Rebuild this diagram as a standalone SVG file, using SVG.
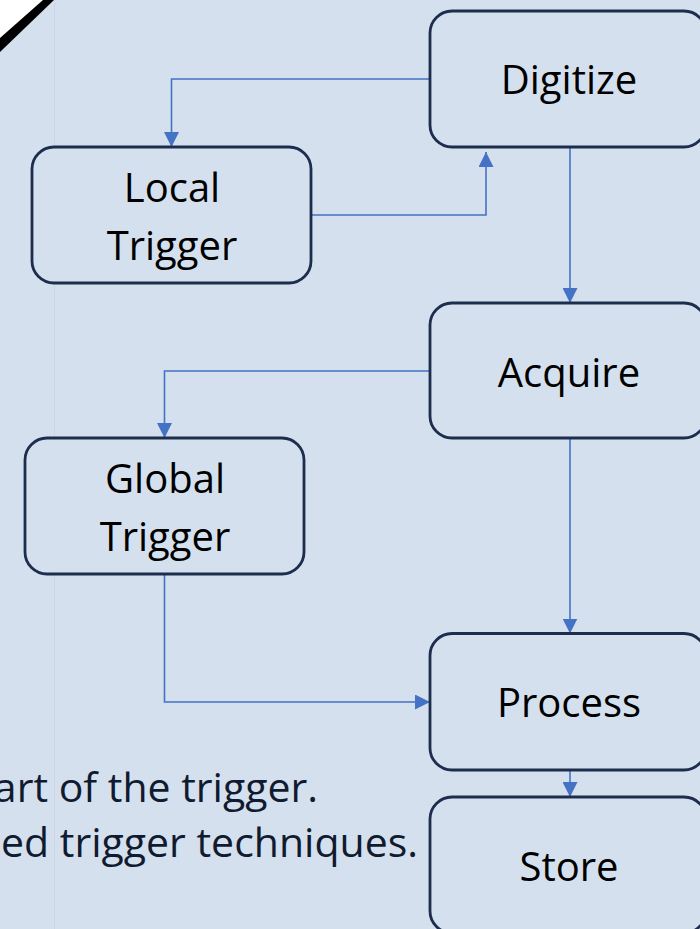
<svg xmlns="http://www.w3.org/2000/svg" width="700" height="929" viewBox="0 0 700 929">
  <style>
    .box { fill: #d5e0ee; stroke: #1c2d4e; stroke-width: 2.8; }
    .label { font-family: "Open Sans", "Noto Sans", sans-serif; font-size: 40px; fill: #000; text-anchor: middle; }
    .note { font-family: "Open Sans", "Noto Sans", sans-serif; font-size: 41px; fill: #101b30; text-anchor: end; }
    .wire { fill: none; stroke: #4472c4; stroke-width: 1.6; marker-end: url(#arrow); }
  </style>
  <defs>
    <marker id="arrow" markerUnits="userSpaceOnUse" markerWidth="15" markerHeight="15" refX="15" refY="7.5" orient="auto">
      <path d="M0,0 L15,7.5 L0,15 Z" fill="#4472c4"/>
    </marker>
  </defs>

  <!-- slide background -->
  <rect x="0" y="0" width="700" height="929" fill="#d5e0ee"/>
  <line x1="54.5" y1="0" x2="54.5" y2="929" stroke="#cbd7e6" stroke-width="1"/>

  <!-- corner fold -->
  <polygon points="0,0 48,0 0,45" fill="#ffffff"/>
  <polygon points="0,38 43,0 54,0 0,52" fill="#000000"/>

  <!-- caption lines running in from the left -->
  <text class="note" x="318" y="802">art of the trigger.</text>
  <text class="note" x="418" y="857">ed trigger techniques.</text>

  <!-- connectors -->
  <g id="connectors">
    <path class="wire" d="M430,79 H171.5 V147"/>
    <path class="wire" d="M311,215 H486 V152"/>
    <path class="wire" d="M570,147 V303"/>
    <path class="wire" d="M430,371 H164.5 V438"/>
    <path class="wire" d="M164.5,574 V702 H430"/>
    <path class="wire" d="M570,438 V633.5"/>
    <path class="wire" d="M570,770 V797"/>
  </g>

  <g id="digitize">
    <rect class="box" x="430" y="11" width="276" height="136" rx="22"/>
    <text class="label" x="569" y="93.5">Digitize</text>
  </g>
  <g id="local-trigger">
    <rect class="box" x="32" y="147" width="279" height="136" rx="22"/>
    <text class="label" x="172" y="201.5">Local</text>
    <text class="label" x="172" y="260">Trigger</text>
  </g>
  <g id="acquire">
    <rect class="box" x="430" y="303" width="276" height="135" rx="22"/>
    <text class="label" x="569" y="386.5">Acquire</text>
  </g>
  <g id="global-trigger">
    <rect class="box" x="25" y="438" width="279" height="136" rx="22"/>
    <text class="label" x="165" y="493">Global</text>
    <text class="label" x="165" y="550.5">Trigger</text>
  </g>
  <g id="process">
    <rect class="box" x="430" y="633.5" width="276" height="136.5" rx="22"/>
    <text class="label" x="569" y="717">Process</text>
  </g>
  <g id="store">
    <rect class="box" x="430" y="797" width="276" height="136" rx="22"/>
    <text class="label" x="569" y="880.5">Store</text>
  </g>
</svg>
